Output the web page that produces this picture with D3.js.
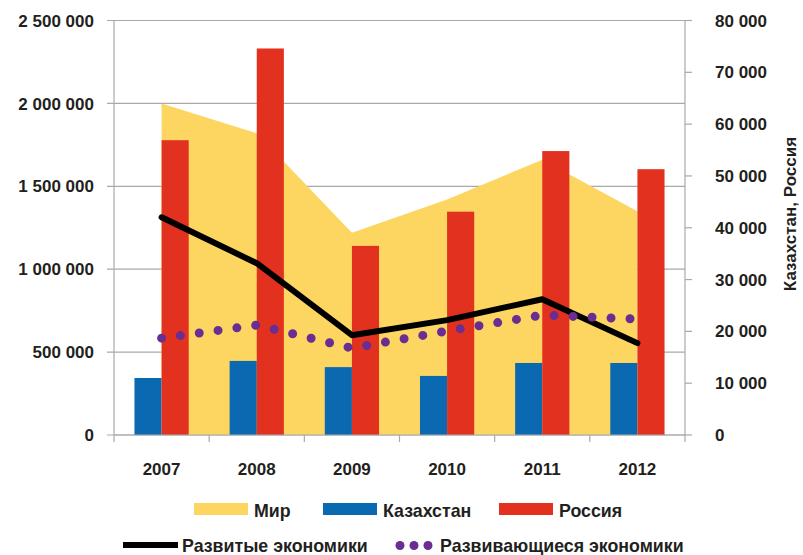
<!DOCTYPE html>
<html>
<head>
<meta charset="utf-8">
<script src="https://cdn.jsdelivr.net/npm/d3@7"></script>
<style>
    body { margin: 0; background: #fff; }
    svg text { font-family: "Liberation Sans", Arial, sans-serif; font-weight: bold; fill: #231f20; }
</style>
</head>
<body>
<div id="chart"></div>
<script>
// Data (millions of US dollars)
const years = ["2007", "2008", "2009", "2010", "2011", "2012"];
const world = [2000000, 1820000, 1220000, 1420000, 1660000, 1350000];
const developed = [1313000, 1036000, 602000, 693000, 819000, 554000];
const developing = [584000, 663000, 524000, 627000, 723000, 699000];
const kazakhstan = [11000, 14300, 13100, 11400, 13900, 13900];
const russia = [56900, 74600, 36500, 43100, 54800, 51300];

const leftTicks = [0, 500000, 1000000, 1500000, 2000000, 2500000];
const rightTicks = [0, 10000, 20000, 30000, 40000, 50000, 60000, 70000, 80000];
const rightTitle = "Казахстан, Россия";

const width = 803, height = 555;
const margin = { top: 20.5, right: 118, bottom: 120, left: 114 };
const innerW = width - margin.left - margin.right;
const innerH = height - margin.top - margin.bottom;

const colors = {
    world: "#fdd661",
    kaz: "#0b69b1",
    rus: "#e2321f",
    developed: "#000",
    developing: "#6a2d91",
    grid: "#a7a9ac"
};

const fmt = d3.formatLocale({ decimal: ",", thousands: " ", grouping: [3], currency: ["", ""] }).format(",d");

const svg = d3.select("#chart").append("svg")
    .attr("width", width)
    .attr("height", height);

const g = svg.append("g").attr("transform", `translate(${margin.left},${margin.top})`);

const x0 = d3.scaleBand().domain(years).range([0, innerW]).paddingInner(0.43).paddingOuter(0.215);
const x1 = d3.scaleBand().domain(["kaz", "rus"]).range([0, x0.bandwidth()]);
const step = innerW / years.length;
const xc = d => x0(d) + x0.bandwidth() / 2;

const yL = d3.scaleLinear().domain([0, 2500000]).range([innerH, 0]);
const yR = d3.scaleLinear().domain([0, 80000]).range([innerH, 0]);

// gridlines
g.selectAll(".grid")
    .data(leftTicks)
    .enter()
    .append("line")
    .attr("x1", -7)
    .attr("x2", innerW)
    .attr("y1", d => yL(d))
    .attr("y2", d => yL(d))
    .attr("stroke", colors.grid)
    .attr("stroke-width", 1.2);

// world area
const area = d3.area()
    .x((d, i) => xc(years[i]))
    .y0(innerH)
    .y1(d => yL(d));

g.append("path")
    .datum(world)
    .attr("d", area)
    .attr("fill", colors.world);

// bars
const groups = g.selectAll(".yr")
    .data(years)
    .enter()
    .append("g")
    .attr("transform", d => `translate(${x0(d)},0)`);

groups.append("rect")
    .attr("x", x1("kaz"))
    .attr("width", x1.bandwidth())
    .attr("y", (d, i) => yR(kazakhstan[i]))
    .attr("height", (d, i) => innerH - yR(kazakhstan[i]))
    .attr("fill", colors.kaz);

groups.append("rect")
    .attr("x", x1("rus"))
    .attr("width", x1.bandwidth())
    .attr("y", (d, i) => yR(russia[i]))
    .attr("height", (d, i) => innerH - yR(russia[i]))
    .attr("fill", colors.rus);

// axes lines
g.append("line").attr("x1", 0).attr("x2", 0).attr("y1", 0).attr("y2", innerH)
    .attr("stroke", colors.grid).attr("stroke-width", 1.2);
g.append("line").attr("x1", innerW).attr("x2", innerW).attr("y1", 0).attr("y2", innerH)
    .attr("stroke", colors.grid).attr("stroke-width", 1.2);
g.append("line").attr("x1", 0).attr("x2", innerW).attr("y1", innerH).attr("y2", innerH)
    .attr("stroke", colors.grid).attr("stroke-width", 1.2);

// x ticks at category boundaries
g.selectAll(".xtick")
    .data(d3.range(years.length + 1))
    .enter()
    .append("line")
    .attr("x1", i => i * step)
    .attr("x2", i => i * step)
    .attr("y1", innerH)
    .attr("y2", innerH + 7)
    .attr("stroke", colors.grid)
    .attr("stroke-width", 1.2);

// right ticks
g.selectAll(".rtick")
    .data(rightTicks)
    .enter()
    .append("line")
    .attr("x1", innerW)
    .attr("x2", innerW + 7)
    .attr("y1", d => yR(d))
    .attr("y2", d => yR(d))
    .attr("stroke", colors.grid)
    .attr("stroke-width", 1.2);

// lines
const line = d3.line()
    .x((d, i) => xc(years[i]))
    .y(d => yL(d));

g.append("path")
    .datum(developed)
    .attr("d", line)
    .attr("fill", "none")
    .attr("stroke", colors.developed)
    .attr("stroke-width", 6)
    .attr("stroke-linejoin", "round")
    .attr("stroke-linecap", "round");

g.append("path")
    .datum(developing)
    .attr("d", line)
    .attr("fill", "none")
    .attr("stroke", colors.developing)
    .attr("stroke-width", 9)
    .attr("stroke-dasharray", "0 19")
    .attr("stroke-linecap", "round");

// tick labels
g.selectAll(".ltxt")
    .data(leftTicks)
    .enter()
    .append("text")
    .attr("x", -20)
    .attr("y", d => yL(d))
    .attr("dy", "0.36em")
    .attr("text-anchor", "end")
    .attr("font-size", 17)
    .text(d => fmt(d));

g.selectAll(".rtxt")
    .data(rightTicks)
    .enter()
    .append("text")
    .attr("x", innerW + 30)
    .attr("y", d => yR(d))
    .attr("dy", "0.36em")
    .attr("text-anchor", "start")
    .attr("font-size", 17)
    .text(d => fmt(d));

g.selectAll(".xtxt")
    .data(years)
    .enter()
    .append("text")
    .attr("x", d => xc(d))
    .attr("y", innerH + 40)
    .attr("text-anchor", "middle")
    .attr("font-size", 17)
    .text(d => d);

svg.append("text")
    .attr("transform", "translate(796,214) rotate(-90)")
    .attr("text-anchor", "middle")
    .attr("font-size", 17)
    .text(rightTitle);

// legend
const legend1 = [
    { label: "Мир", color: colors.world, x: 194 },
    { label: "Казахстан", color: colors.kaz, x: 323 },
    { label: "Россия", color: colors.rus, x: 499 }
];

const l1 = svg.selectAll(".leg1")
    .data(legend1)
    .enter()
    .append("g")
    .attr("transform", d => `translate(${d.x},503)`);

l1.append("rect")
    .attr("width", 54)
    .attr("height", 12)
    .attr("fill", d => d.color);

l1.append("text")
    .attr("x", 60)
    .attr("y", 13.5)
    .attr("font-size", 17.8)
    .text(d => d.label);

svg.append("line")
    .attr("x1", 123).attr("x2", 178)
    .attr("y1", 545).attr("y2", 545)
    .attr("stroke", colors.developed)
    .attr("stroke-width", 6);

svg.append("text")
    .attr("x", 182)
    .attr("y", 552)
    .attr("font-size", 17.8)
    .text("Развитые экономики");

svg.selectAll(".ldot")
    .data([0, 1, 2])
    .enter()
    .append("circle")
    .attr("cx", i => 400 + i * 14)
    .attr("cy", 545.5)
    .attr("r", 4.5)
    .attr("fill", colors.developing);

svg.append("text")
    .attr("x", 440)
    .attr("y", 552)
    .attr("font-size", 17.8)
    .text("Развивающиеся экономики");
</script>
</body>
</html>
